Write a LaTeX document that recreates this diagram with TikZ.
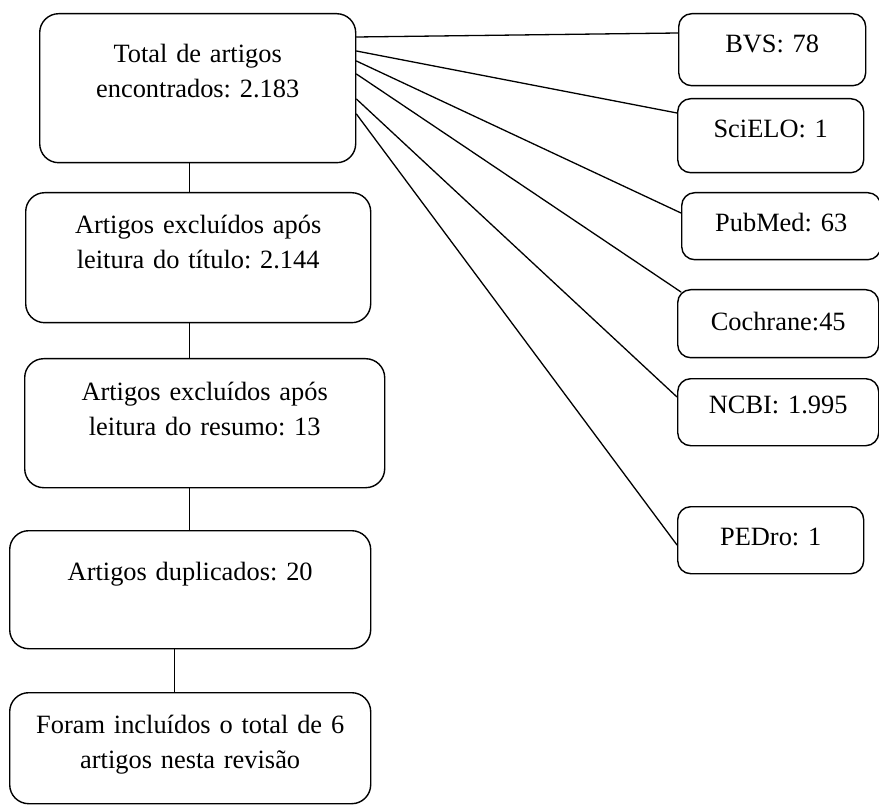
\documentclass[tikz,border=0pt]{standalone}
\usepackage{fontspec}
\setmainfont{Liberation Serif}
\usetikzlibrary{calc}
\frenchspacing

\begin{document}
\begin{tikzpicture}[x=1pt, y=-1pt, line cap=round, line join=round,
    box/.style={draw, line width=1.4pt, rounded corners=19pt, anchor=north west,
      inner sep=0pt, align=center, font=\fontsize{26.4}{35}\selectfont},
    srcbox/.style={box, rounded corners=13pt},
    link/.style={line width=1.3pt}]
  \useasboundingbox (0,0) rectangle (879,805);

  % --- left: selection steps ---
  \node[box, text width=316pt, text height=49pt, text depth=100pt] (total) at (39,13)
       {Total de artigos\\encontrados: 2.183};
  \node[box, text width=345pt, text height=41pt, text depth=89pt] (titulo) at (25,192)
       {Artigos excluídos após\\leitura do título: 2.144};
  \node[box, text width=360pt, text height=42pt, text depth=87pt] (resumo) at (24,358)
       {Artigos excluídos após\\leitura do resumo: 13};
  \node[box, text width=361pt, text height=50pt, text depth=68pt] (duplic) at (9,530)
       {Artigos duplicados: 20};
  \node[box, text width=361pt, text height=41pt, text depth=70pt] (incluid) at (9,692)
       {Foram incluídos o total de 6\\artigos nesta revisão};

  \draw[link] ([xshift=-8pt]total.south) -- ([xshift=-8pt]total.south |- titulo.north);
  \draw[link] ([xshift=-8.5pt]titulo.south) -- ([xshift=-8.5pt]titulo.south |- resumo.north);
  \draw[link] ([xshift=-15pt]resumo.south) -- ([xshift=-15pt]resumo.south |- duplic.north);
  \draw[link] ([xshift=-15.5pt]duplic.south) -- ([xshift=-15.5pt]duplic.south |- incluid.north);

  % --- right: databases ---
  \node[srcbox, text width=187pt, text height=39pt, text depth=33pt] (bvs) at (678,13) {BVS: 78};
  \node[srcbox, text width=186pt, text height=39pt, text depth=35pt] (scielo) at (677,98) {SciELO: 1};
  \node[srcbox, text width=199pt, text height=39pt, text depth=28pt] (pubmed) at (681,192) {PubMed: 63};
  \node[srcbox, text width=201pt, text height=41pt, text depth=27pt] (cochrane) at (677,289) {Cochrane:45};
  \node[srcbox, text width=201pt, text height=35pt, text depth=32pt] (ncbi) at (677,378) {NCBI: 1.995};
  \node[srcbox, text width=186pt, text height=39pt, text depth=28pt] (pedro) at (677,506) {PEDro: 1};

  % fan of links from the total
  \foreach \src/\dst/\dy in {24/bvs/20, 38/scielo/15, 48/pubmed/21, 86/ncbi/19, 101/pedro/39}
    \draw[link] ([yshift=-\src pt]total.north east) -- ([yshift=-\dy pt]\dst.north west);
  \draw[link] ([yshift=-61pt]total.north east) -- ([xshift=4pt, yshift=-3pt]cochrane.north west);
\end{tikzpicture}
\end{document}
